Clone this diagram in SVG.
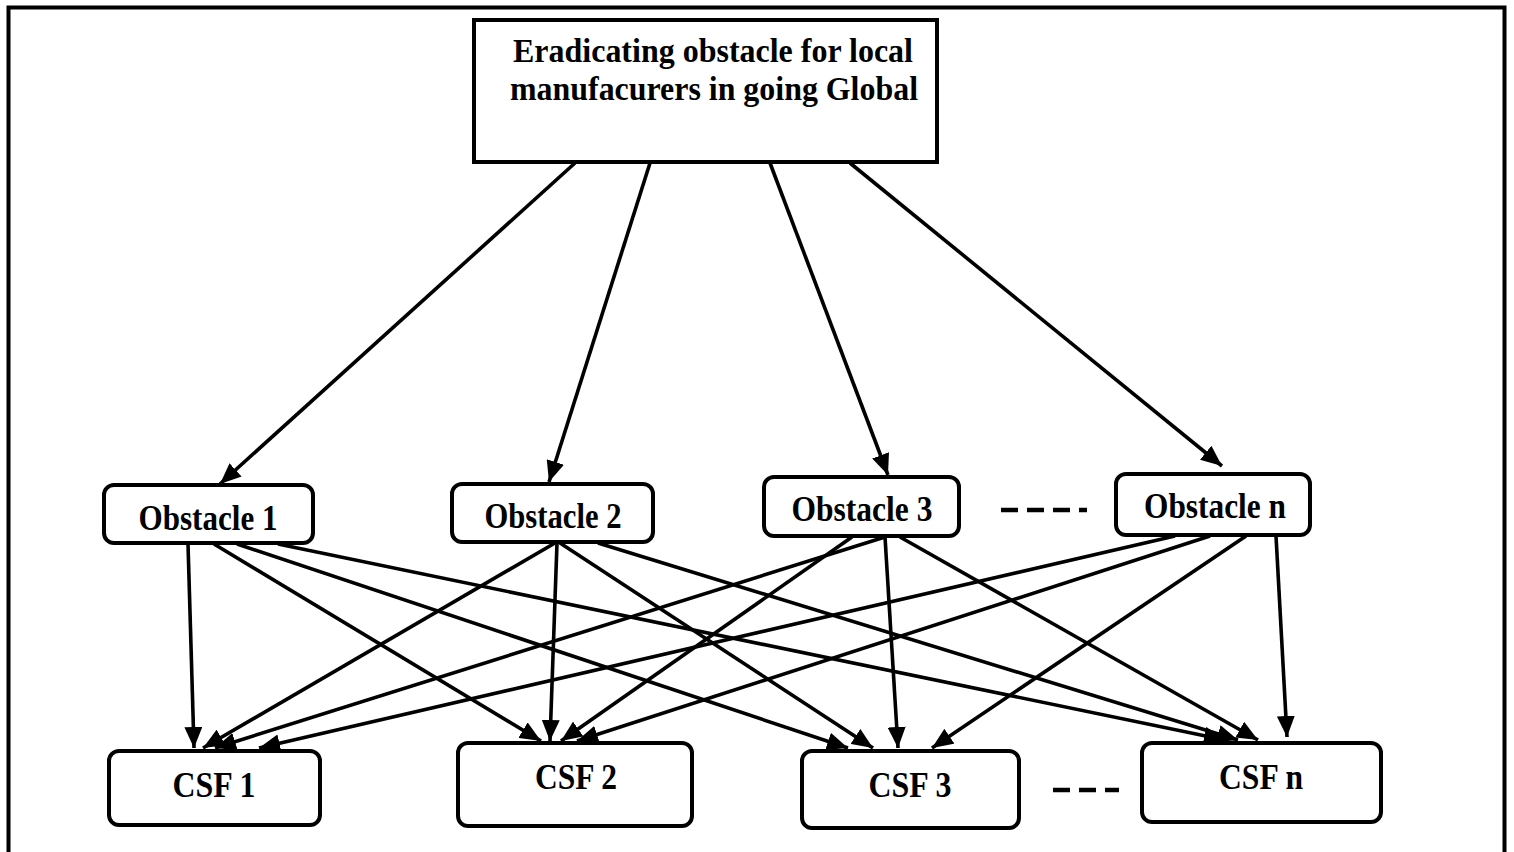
<svg xmlns="http://www.w3.org/2000/svg" width="1514" height="852" viewBox="0 0 1514 852">
<style>
.box{fill:#fff;stroke:#000;stroke-width:4}
.lbl{font-family:"Liberation Serif","Times New Roman",Times,serif;font-weight:bold;font-size:35px;fill:#000;text-anchor:middle}
.ttl{font-family:"Liberation Serif","Times New Roman",Times,serif;font-weight:bold;font-size:33px;fill:#000;text-anchor:middle}
.c{stroke:#000;stroke-width:3.6;fill:none;marker-end:url(#ah)}
.dash{stroke:#000;stroke-width:4.5;stroke-dasharray:17 9;fill:none}
</style>
<defs>
<marker id="ah" markerUnits="userSpaceOnUse" markerWidth="22" markerHeight="18" refX="21" refY="9" orient="auto">
<path d="M0,0 L21,9 L0,18 Z" fill="#000"/>
</marker>
</defs>
<rect width="1514" height="852" fill="#fff"/>
<path d="M8.5,852 V7.5 H1504.5 V852" fill="none" stroke="#000" stroke-width="4"/>

<g id="connectors">
<line class="c" x1="575" y1="163" x2="220" y2="484"/>
<line class="c" x1="650" y1="163" x2="549" y2="482"/>
<line class="c" x1="770" y1="163" x2="888" y2="475"/>
<line class="c" x1="850" y1="163" x2="1222" y2="466"/>

<line class="c" x1="188" y1="544" x2="194" y2="748"/>
<line class="c" x1="214" y1="544" x2="541" y2="741"/>
<line class="c" x1="237" y1="544" x2="848" y2="748"/>
<line class="c" x1="278" y1="544" x2="1225" y2="740"/>

<line class="c" x1="555" y1="543" x2="203" y2="748"/>
<line class="c" x1="557" y1="543" x2="550" y2="741"/>
<line class="c" x1="560" y1="543" x2="873" y2="748"/>
<line class="c" x1="598" y1="543" x2="1238" y2="740"/>

<line class="c" x1="885" y1="537" x2="215" y2="748"/>
<line class="c" x1="852" y1="537" x2="561" y2="741"/>
<line class="c" x1="885" y1="537" x2="898" y2="748"/>
<line class="c" x1="900" y1="537" x2="1258" y2="740"/>

<line class="c" x1="1175" y1="536" x2="259" y2="748"/>
<line class="c" x1="1210" y1="536" x2="577" y2="741"/>
<line class="c" x1="1246" y1="536" x2="932" y2="748"/>
<line class="c" x1="1276" y1="536" x2="1287" y2="737"/>

<line class="dash" x1="1001" y1="510" x2="1087" y2="510"/>
<line class="dash" x1="1053" y1="790" x2="1119" y2="790"/>
</g>

<g id="goal">
<rect class="box" x="474" y="20" width="463" height="142"/>
<text class="ttl" x="713" y="62" textLength="400" lengthAdjust="spacingAndGlyphs">Eradicating obstacle for local</text>
<text class="ttl" x="714" y="100" textLength="408" lengthAdjust="spacingAndGlyphs">manufacurers in going Global</text>
</g>

<g id="obstacle1">
<rect class="box" x="104" y="485" width="209" height="58" rx="10"/>
<text class="lbl" x="208" y="530" textLength="139" lengthAdjust="spacingAndGlyphs">Obstacle 1</text>
</g>
<g id="obstacle2">
<rect class="box" x="452" y="484" width="201" height="58" rx="10"/>
<text class="lbl" x="553" y="528" textLength="137" lengthAdjust="spacingAndGlyphs">Obstacle 2</text>
</g>
<g id="obstacle3">
<rect class="box" x="764" y="477" width="195" height="59" rx="10"/>
<text class="lbl" x="862" y="521" textLength="141" lengthAdjust="spacingAndGlyphs">Obstacle 3</text>
</g>
<g id="obstaclen">
<rect class="box" x="1116" y="474" width="194" height="61" rx="10"/>
<text class="lbl" x="1215" y="518" textLength="142" lengthAdjust="spacingAndGlyphs">Obstacle n</text>
</g>

<g id="csf1">
<rect class="box" x="109" y="751" width="211" height="74" rx="10"/>
<text class="lbl" x="214" y="797" textLength="83" lengthAdjust="spacingAndGlyphs">CSF 1</text>
</g>
<g id="csf2">
<rect class="box" x="458" y="743" width="234" height="83" rx="10"/>
<text class="lbl" x="576" y="789" textLength="82" lengthAdjust="spacingAndGlyphs">CSF 2</text>
</g>
<g id="csf3">
<rect class="box" x="802" y="751" width="217" height="77" rx="10"/>
<text class="lbl" x="910" y="797" textLength="83" lengthAdjust="spacingAndGlyphs">CSF 3</text>
</g>
<g id="csfn">
<rect class="box" x="1142" y="743" width="239" height="79" rx="10"/>
<text class="lbl" x="1261" y="789" textLength="84" lengthAdjust="spacingAndGlyphs">CSF n</text>
</g>
</svg>
